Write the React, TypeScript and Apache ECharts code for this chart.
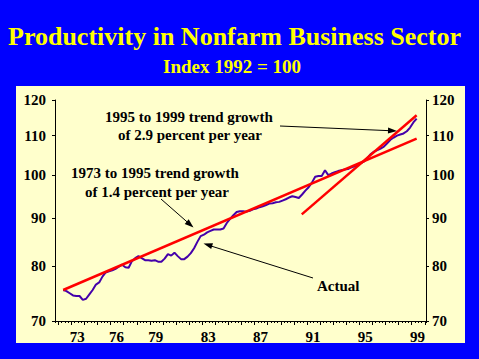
import React, { useEffect, useRef } from "react";
import * as echarts from "echarts";

// Quarterly data, first point 1972 Q2
const START_YEAR = 1972;
const START_QUARTER = 2;
const actualValues = [
  75.5, 75.3, 74.9, 74.5, 74.4, 74.4, 73.7, 73.9, 74.7, 75.5,
  76.5, 76.9, 78.0, 78.8, 79.0, 79.2, 79.5, 79.9, 80.3, 79.8,
  79.7, 81.0, 81.6, 82.0, 81.6, 81.2, 81.2, 81.1, 81.2, 80.9,
  80.9, 81.5, 82.4, 82.1, 82.7, 82.0, 81.4, 81.4, 81.9, 82.6,
  83.6, 84.9, 86.1, 86.4, 86.9, 87.2, 87.5, 87.5, 87.5, 87.7,
  88.9, 89.8, 90.6, 91.3, 91.5, 91.5, 91.4, 91.6, 91.9, 92.1,
  92.4, 92.6, 92.9, 93.2, 93.3, 93.5, 93.6, 93.9, 94.2, 94.6,
  94.9, 94.7, 94.5, 95.3, 96.2, 97.0, 98.1, 99.5, 99.7, 99.7,
  101.1, 99.9, 100.3, 100.6, 100.9, 101.1, 101.3, 101.4, 101.8, 102.1,
  102.4, 102.9, 103.3, 104.2, 105.2, 105.8, 106.2, 106.6, 107.1, 108.0,
  108.9, 109.5, 110.0, 110.3, 110.6, 111.2, 112.2, 113.6, 114.7,
];

const trend1Years = [1972.375, 1999.375];
const trend1Values = [75.5, 109.2];
const trend2Years = [1990.6, 1999.375];
const trend2Values = [90.8, 115.6];

const yTickValues = [70, 80, 90, 100, 110, 120];
const xTickLabels = [73, 76, 79, 83, 87, 91, 95, 99];

const SERIF = "Times New Roman";

export default function App() {
  const ref = useRef<HTMLDivElement>(null);

  useEffect(() => {
    if (!ref.current) return;
    const chart = echarts.init(ref.current, null, { renderer: "svg" });

    const qTime = (i: number) =>
      START_YEAR + (START_QUARTER - 1) / 4 + 0.125 + i * 0.25;
    const actualData = actualValues.map((v, i) => [qTime(i), Math.log(v)]);
    const trend1Data = trend1Years.map((t, i) => [t, Math.log(trend1Values[i])]);
    const trend2Data = trend2Years.map((t, i) => [t, Math.log(trend2Values[i])]);

    const yTicks = yTickValues.map((v) => Math.log(v));
    const xLabelPos = xTickLabels.map((y) => 1900 + y + 0.45);
    const yearTicks: number[] = [];
    for (let y = 1972; y <= 2000; y++) yearTicks.push(y);

    const yAxisBase = (pos: "left" | "right") => ({
      type: "value",
      position: pos,
      min: Math.log(70),
      max: Math.log(120),
      axisLine: { show: true, lineStyle: { color: "#000", width: 1 } },
      axisTick: { show: true, customValues: yTicks, length: 3, lineStyle: { color: "#000" } },
      splitLine: { show: false },
      axisLabel: {
        customValues: yTicks,
        formatter: (v: number) => String(Math.round(Math.exp(v))),
        color: "#000",
        fontSize: 15,
        fontWeight: "bold",
        fontFamily: SERIF,
        margin: pos === "left" ? 9 : 6,
        padding: [6, 0, 0, 0],
      },
    });

    const textEl = (t: string, x: number, y: number, size: number, color: string) => ({
      type: "text",
      x,
      y,
      z: 10,
      style: {
        text: t,
        fontFamily: SERIF,
        fontSize: size,
        fontWeight: "bold",
        fill: color,
      },
    });

    const option: any = {
      animation: false,
      textStyle: { fontFamily: SERIF },
      grid: { left: 55, right: 53, top: 100, bottom: 38 },
      xAxis: [
        {
          type: "value",
          min: 1971.75,
          max: 2000.09,
          interval: 0.25,
          axisLine: { show: true, onZero: false, lineStyle: { color: "#000", width: 1 } },
          axisTick: { show: true, length: 2, lineStyle: { color: "#000" } },
          splitLine: { show: false },
          axisLabel: {
            customValues: xLabelPos,
            formatter: (v: number) => String(Math.floor(v) % 100).padStart(2, "0"),
            color: "#000",
            fontSize: 15,
            fontWeight: "bold",
            fontFamily: SERIF,
            margin: 8,
          },
        },
        {
          type: "value",
          position: "bottom",
          min: 1971.75,
          max: 2000.09,
          axisLine: { show: false, onZero: false },
          axisTick: { show: true, customValues: yearTicks, length: 4, lineStyle: { color: "#000" } },
          axisLabel: { show: false },
          splitLine: { show: false },
        },
      ],
      yAxis: [yAxisBase("left"), yAxisBase("right")],
      series: [
        {
          name: "Actual",
          type: "line",
          data: actualData,
          showSymbol: false,
          symbol: "none",
          lineStyle: { color: "#4400AA", width: 2 },
          z: 3,
        },
        {
          name: "Trend 1973-1995",
          type: "line",
          data: trend1Data,
          symbol: "none",
          lineStyle: { color: "#FF0000", width: 2.5 },
          z: 4,
        },
        {
          name: "Trend 1995-1999",
          type: "line",
          data: trend2Data,
          symbol: "none",
          lineStyle: { color: "#FF0000", width: 2.5 },
          z: 4,
        },
      ],
      graphic: [
        textEl("Productivity in Nonfarm Business Sector", 8, 23, 26, "#FFFF00"),
        textEl("Index 1992 = 100", 163, 57, 19, "#FFFF00"),
        textEl("1995 to 1999 trend growth", 105, 109, 15, "#000"),
        textEl("of 2.9 percent per year", 118, 127, 15, "#000"),
        textEl("1973 to 1995 trend growth", 71, 165, 15, "#000"),
        textEl("of 1.4 percent per year", 85, 184, 15, "#000"),
        textEl("Actual", 317, 278, 15, "#000"),
        { type: "line", z: 10, shape: { x1: 280, y1: 126, x2: 390, y2: 130.7 }, style: { stroke: "#000", lineWidth: 1 } },
        { type: "polygon", z: 10, shape: { points: [[397, 131], [388.1, 127.6], [387.9, 133.6]] }, style: { fill: "#000" } },
        { type: "line", z: 10, shape: { x1: 161, y1: 199, x2: 188, y2: 222.7 }, style: { stroke: "#000", lineWidth: 1 } },
        { type: "polygon", z: 10, shape: { points: [[193.5, 227.5], [184.7, 223.9], [188.7, 219.3]] }, style: { fill: "#000" } },
        { type: "line", z: 10, shape: { x1: 313, y1: 278, x2: 211, y2: 246 }, style: { stroke: "#000", lineWidth: 1 } },
        { type: "polygon", z: 10, shape: { points: [[203.5, 243.5], [213, 243.3], [211.2, 249.1]] }, style: { fill: "#000" } },
      ],
    };

    chart.setOption(option);
    return () => chart.dispose();
  }, []);

  return (
    <div style={{ position: "fixed", left: 0, top: 0, width: 479, height: 359, background: "#0000FF" }}>
      <div style={{ position: "absolute", left: 16, top: 86, width: 449, height: 257, background: "#FFFFCC" }} />
      <div ref={ref} style={{ position: "absolute", left: 0, top: 0, width: 479, height: 359 }} />
    </div>
  );
}
